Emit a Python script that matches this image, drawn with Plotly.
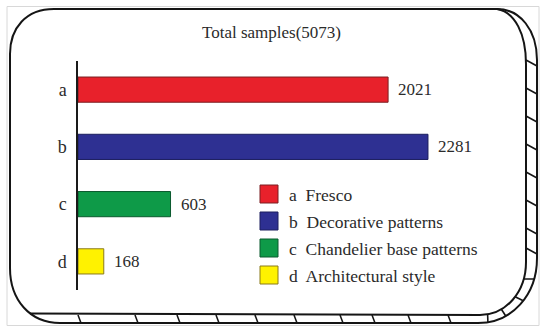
import plotly.graph_objects as go

# ---- data ----
categories = ["a", "b", "c", "d"]
names = ["Fresco", "Decorative patterns", "Chandelier base patterns", "Architectural style"]
counts = [2021, 2281, 603, 168]
total = 5073
colors = ["#E8212B", "#2E3092", "#0E9A48", "#FFF200"]
edge_colors = ["#7a1f22", "#1c1e5e", "#0b5a2e", "#8a7a1a"]

FONT = "Liberation Serif, Times New Roman, serif"
TXT = "#2b2b2b"

# layout geometry (pixels)
W, H = 550, 336
L, R, T, B = 78, 72, 61, 46
PW, PH = W - L - R, H - T - B
XMAX = 2607


def px(x):
    return (x - L) / PW


def py(y):
    return (H - B - y) / PH


def P(x, y):
    return f"{px(x):.5f},{py(y):.5f}"


fig = go.Figure()
fig.add_trace(go.Bar(
    y=categories, x=counts, orientation="h",
    marker=dict(color=colors, line=dict(color=edge_colors, width=1)),
    width=0.44, showlegend=False, hoverinfo="skip",
))

annotations = []
# value labels
for c, v in zip(categories, counts):
    annotations.append(dict(x=v, y=c, xref="x", yref="y", text=str(v), showarrow=False,
                            xanchor="left", yanchor="middle", xshift=8,
                            font=dict(family=FONT, size=17, color=TXT)))
# title
annotations.append(dict(x=px(271.5), y=py(32), xref="paper", yref="paper",
                        text=f"Total samples({total})", showarrow=False,
                        xanchor="center", yanchor="middle",
                        font=dict(family=FONT, size=17, color=TXT)))

shapes = []
# custom legend
for i, (c, n, col, ec) in enumerate(zip(categories, names, colors, edge_colors)):
    cy = 194 + 27 * i
    shapes.append(dict(type="rect", xref="paper", yref="paper",
                       x0=px(260), x1=px(278), y0=py(cy - 9), y1=py(cy + 9),
                       fillcolor=col, line=dict(color=ec, width=1)))
    annotations.append(dict(x=px(287), y=py(cy + 0.5), xref="paper", yref="paper",
                            text=f"{c}\u00a0 {n}", showarrow=False,
                            xanchor="left", yanchor="middle",
                            font=dict(family=FONT, size=17.5, color=TXT)))

# ---- decorative 3D rounded frame ----
LINE = dict(color="#151515", width=2)
shapes.append(dict(type="rect", xref="paper", yref="paper",
                   x0=px(7), x1=px(539), y0=py(6.5), y1=py(325.5),
                   line=dict(color="#d8d8d8", width=1)))
outer = (f"M{P(497,9)} L{P(54,9)} C{P(26,9)} {P(10,28)} {P(10,54)} "
         f"L{P(10,268)} C{P(10,300)} {P(30,323)} {P(60,323)} "
         f"L{P(478,323)} C{P(512,323)} {P(537,295)} {P(537,258)} "
         f"L{P(537,60)} C{P(537,30)} {P(520,9)} {P(497,9)}")
shapes.append(dict(type="path", xref="paper", yref="paper", path=outer, line=LINE))
inner = (f"M{P(30,313.5)} L{P(480,315)} C{P(506,315)} {P(526,292)} {P(526,262)} "
         f"L{P(526,64)} C{P(526,34)} {P(515,12)} {P(497,9)}")
shapes.append(dict(type="path", xref="paper", yref="paper", path=inner, line=LINE))


def bez(p0, p1, p2, p3, t):
    u = 1 - t
    return (u**3 * p0[0] + 3 * u * u * t * p1[0] + 3 * u * t * t * p2[0] + t**3 * p3[0],
            u**3 * p0[1] + 3 * u * u * t * p1[1] + 3 * u * t * t * p2[1] + t**3 * p3[1])


HL = dict(color="#151515", width=1.6)
# right side hatches
for y in [60, 88, 116, 144, 172, 200, 228, 248]:
    shapes.append(dict(type="line", xref="paper", yref="paper",
                       x0=px(526), y0=py(y), x1=px(537), y1=py(y + 6), line=HL))
# bottom-right corner hatches (radial)
for t in [0.2, 0.45, 0.7, 0.9]:
    a = bez((526, 262), (526, 292), (506, 315), (480, 315), t)
    b = bez((537, 258), (537, 295), (512, 323), (478, 323), t)
    shapes.append(dict(type="line", xref="paper", yref="paper",
                       x0=px(a[0]), y0=py(a[1]), x1=px(b[0]), y1=py(b[1]), line=HL))
# bottom hatches
for x in [78, 135, 177, 216, 255, 294, 340, 372, 408, 448]:
    shapes.append(dict(type="line", xref="paper", yref="paper",
                       x0=px(x), y0=py(315), x1=px(x + 3), y1=py(323), line=HL))

fig.update_layout(
    width=W, height=H,
    margin=dict(l=L, r=R, t=T, b=B, pad=0),
    paper_bgcolor="white", plot_bgcolor="white",
    xaxis=dict(range=[0, XMAX], visible=False, fixedrange=True),
    yaxis=dict(type="category", categoryorder="array", categoryarray=categories,
               range=[3.5, -0.5], showline=True, linecolor="#1a1a1a", linewidth=1.5,
               showgrid=False, zeroline=False, ticks="", ticklabelstandoff=6,
               fixedrange=True, tickfont=dict(family=FONT, size=18, color=TXT)),
    shapes=shapes, annotations=annotations,
    showlegend=False,
)

fig.write_html("out.html", config={"displayModeBar": False},
               post_script="document.body.style.margin='0';document.body.style.overflow='hidden';")
